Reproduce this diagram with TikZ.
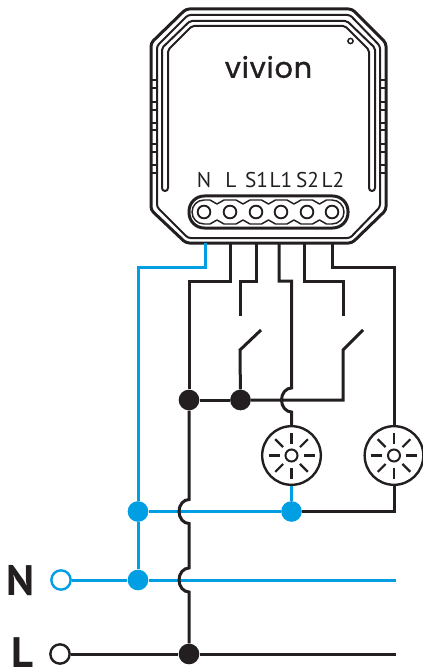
\documentclass[tikz,border=0pt]{standalone}
\usepackage{fontspec}
\setmainfont{PT Sans}
\newfontfamily\brandfont[FakeBold=1.2,LetterSpace=3]{Poppins}
\definecolor{ink}{HTML}{231F20}
\definecolor{wireblue}{HTML}{009FE3}
\tikzset{
  wire/.style={draw=ink,line width=2.25pt,line join=miter},
  bluewire/.style={draw=wireblue,line width=2.25pt,line join=miter},
  case/.style={draw=ink,line width=1.5pt,line join=round},
  thick case/.style={draw=ink,line width=2.25pt,line join=round},
  dotk/.style={circle,fill=ink,minimum size=15.5pt,inner sep=0pt},
  dotb/.style={circle,fill=wireblue,minimum size=15.5pt,inner sep=0pt},
  term/.style={circle,draw=ink,line width=1.8pt,fill=white,minimum size=14.5pt,inner sep=0pt},
  termb/.style={circle,draw=wireblue,line width=1.8pt,fill=white,minimum size=14.5pt,inner sep=0pt},
  screw/.style={circle,draw=ink,line width=1.4pt,minimum size=9.5pt,inner sep=0pt},
  lamp/.style={circle,draw=ink,line width=1.8pt,fill=white,minimum size=44pt,inner sep=0pt},
  lbl/.style={font=\fontsize{16}{16}\selectfont,text=ink,inner sep=0pt},
  big/.style={font=\fontsize{32}{32}\selectfont\bfseries,text=ink,inner sep=0pt},
  ray/.style={draw=ink,line width=1.6pt},
  hop/.style={start angle=-90,end angle=-270,x radius=10,y radius=12}
}
\newcommand{\lampray}[1]{%
  \foreach \a in {0,45,...,315}{\draw[ray] (#1)++(\a:12) -- ++(\a:11);}
  \draw[draw=ink,line width=1.5pt] (#1) circle[radius=6];}
\begin{document}
\begin{tikzpicture}[x=0.75pt,y=-0.75pt]
\useasboundingbox (0,0) rectangle (423,670);
% case
\draw[thick case,rounded corners=2.5pt] (186,9)--(352,9)--(386,43)--(386,210)--(352,243)--(186,243)--(151,210)--(151,43)--cycle;
\draw[case,rounded corners=2pt] (188,15)--(350,15)--(380,46)--(380,207)--(350,238)--(188,238)--(157,207)--(157,46)--cycle;
\draw[case,rounded corners=1.5pt] (162,188) -- (162,48) -- (190,21) -- (347,21) -- (375,48) -- (375,188);
\draw[case,rounded corners=1.5pt] (168,188) -- (168,50) -- (192,26) -- (345,26) -- (369,50) -- (369,188);
\draw[case] (162,188) arc[start angle=180,end angle=0,radius=3];
\draw[case] (369,188) arc[start angle=180,end angle=0,radius=3];
\foreach \y in {80,88,102,110,123,130,144,152,165,173}{
  \draw[draw=ink,line width=1.3pt] (151,\y)--(157,\y);
  \draw[draw=ink,line width=1.3pt] (380,\y)--(386,\y);
}
\draw[draw=ink,line width=1.1pt] (350.5,41) circle[radius=2.6];
\node[font=\fontsize{21.5}{21.5}\selectfont\brandfont,text=ink,inner sep=0pt] (brand) at (268.5,67) {vivion};
% terminal strip
\draw[thick case,rounded corners=11.5pt] (189,196) rectangle (348,228);
\foreach \x in {204,230,256,281,307,332}{
  \node[screw] (s\x) at (\x,212) {};
}
\draw[case,line width=1.1pt,line join=round] (204,200) \foreach \x in {217,243,268.5,294,319.5}{ -- (\x-7,200) -- (\x,204) -- (\x+7,200)} -- (332,200)
  arc[start angle=-90,end angle=90,radius=12]
  \foreach \x in {319.5,294,268.5,243,217}{ -- (\x+7,224) -- (\x,220) -- (\x-7,224)} -- (204,224)
  arc[start angle=90,end angle=270,radius=12] -- cycle;
\node[lbl] (tN) at (204,180) {N};
\node[lbl] (tL) at (231,180) {L};
\node[lbl] (tS1) at (256.5,180) {S1};
\node[lbl] (tL1) at (281,180) {L1};
\node[lbl] (tS2) at (307.5,180) {S2};
\node[lbl] (tL2) at (333,180) {L2};
% wire anchors
\coordinate (pN) at (205,243);
\coordinate (pL) at (230,243);
\coordinate (pS1) at (256,243);
\coordinate (pL1) at (279,243);
\coordinate (pS2) at (304,243);
\coordinate (pL2) at (332,243);
\coordinate (sw1a) at (240,316);
\coordinate (sw1b) at (240,350);
\coordinate (sw1c) at (261,330);
\coordinate (sw2a) at (343,316);
\coordinate (sw2b) at (343,350);
\coordinate (sw2c) at (363,330);
\coordinate (eN) at (396,580);
\coordinate (eL) at (396,654);
% junctions & lamps
\node[lamp] (lamp1) at (291.5,455.5) {};
\node[lamp] (lamp2) at (394,455.5) {};
\node[dotk] (j1) at (189,400) {};
\node[dotk] (j2) at (240.5,400) {};
\node[dotk] (j3) at (189,654) {};
\node[dotb] (b1) at (138,511.5) {};
\node[dotb] (b2) at (291.5,511.5) {};
\node[dotb] (b3) at (138,580) {};
\node[termb] (inN) at (61,580) {};
\node[term] (inL) at (60,654) {};
\node[big] (bigN) at (21,581) {N};
\node[big] (bigL) at (22,653) {L};
% wires
\draw[bluewire] (pN) |- (138,267) -- (b1);
\draw[bluewire] (b1) -- (b3);
\draw[bluewire] (inN) -- (b3) -- (eN);
\draw[bluewire] (b1) -- (b2);
\draw[bluewire] (b2) -- (lamp1.south);
\draw[wire] (b2) -- (394,511.5) -- (lamp2.south);
\draw[wire] (pL) -- (230,281) -- (189,281) -- (j1);
\draw[wire] (j1) -- (189,499.5) arc[hop] -- (189,568) arc[hop] -- (j3);
\draw[wire] (inL) -- (j3) -- (eL);
\draw[wire] (pS1) -- (256,281) -- (240,281) -- (sw1a);
\draw[wire] (sw1c) -- (sw1b) -- (j2);
\draw[wire] (pS2) -- (304,281) -- (343,281) -- (sw2a);
\draw[wire] (sw2c) -- (sw2b) -- (343,400) -- (j2);
\draw[wire] (j1) -- (j2);
\draw[wire] (pL1) -- (279,281) -- (291.5,281) -- (291.5,388) arc[hop] -- (lamp1.north);
\draw[wire] (pL2) -- (332,267) -- (394,267) -- (lamp2.north);
\lampray{lamp1}
\lampray{lamp2}
\end{tikzpicture}
\end{document}
